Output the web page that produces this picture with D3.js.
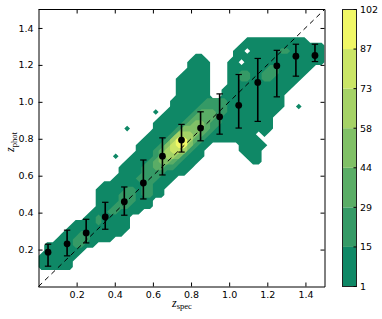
<!DOCTYPE html>
<html>
<head>
<meta charset="utf-8">
<script src="https://cdn.jsdelivr.net/npm/d3@7"></script>
<style>
body { margin: 0; background: #fff; }
text { font-family: "DejaVu Sans", sans-serif; font-size: 9.5px; fill: #000; }
.math { font-family: "Liberation Serif", serif; }
</style>
</head>
<body>
<script>
// plot box (pixels)
var plotLeft = 38.5, plotRight = 324.5, plotTop = 9.5, plotBottom = 286.5;

// contour levels (counts) shown on the colour bar
var levels = [1, 15, 29, 44, 58, 73, 87, 102];
// representative count for a cell of each band (0 = empty)
var bandCount = [0, 8, 22, 36, 51, 65, 80, 95];

// 2d histogram, bin 0.03 in z_spec and z_phot, 50 x 50 bins
// runs: [row (z_phot bin), band, first col, last col]
var binWidth = 0.03, nBins = 50;
var densityRuns = [
  [3,1,0,5],[4,1,0,5],[5,1,0,6],[6,1,1,7],[7,1,1,9],[8,1,3,12],[9,1,4,14],
  [10,1,5,15],[11,1,6,15],[12,1,8,15],[13,1,9,17],[14,1,10,19],[15,1,10,19],
  [16,1,10,21],[17,1,10,21],[18,1,11,22],[19,1,13,23],[20,1,14,25],[21,1,14,26],
  [22,1,15,27],[22,1,37,38],[23,1,16,28],[23,1,36,38],[23,1,13,13],
  [24,1,17,28],[24,1,35,38],[25,1,17,29],[25,1,35,39],[26,1,18,38],[27,1,19,39],
  [28,1,20,40],[28,1,15,15],[29,1,20,40],[30,1,21,40],[31,1,22,41],[31,1,20,20],
  [32,1,23,42],[32,1,45,45],[33,1,23,42],[34,1,24,29],[34,1,32,42],
  [35,1,24,29],[35,1,32,43],[36,1,24,29],[36,1,33,44],[37,1,24,29],[37,1,33,45],
  [38,1,25,29],[38,1,33,46],[39,1,26,29],[39,1,33,47],[40,1,26,29],[40,1,33,49],
  [41,1,27,28],[41,1,34,49],[42,1,34,49],[43,1,35,49],[44,1,36,46],
  // empty bins inside the envelope
  [27,0,38,38],[40,0,35,35],[42,0,36,36],
  // band 2
  [7,2,6,7],[8,2,6,8],[9,2,7,8],[11,2,10,10],[12,2,10,10],[13,2,12,13],
  [14,2,13,15],[15,2,14,16],[16,2,14,16],[16,2,18,19],[17,2,15,16],[17,2,18,19],
  [18,2,18,19],[19,2,17,20],[20,2,18,21],[21,2,18,23],[22,2,19,24],[23,2,20,25],
  [24,2,20,26],[25,2,21,27],[26,2,22,28],[27,2,23,29],[28,2,24,30],[29,2,25,31],
  [30,2,26,31],[31,2,27,32],[32,2,28,32],[33,2,29,32],
  [37,2,35,36],[37,2,39,40],[38,2,35,36],[38,2,39,41],[39,2,40,41],[42,2,42,43],
  // band 3
  [21,3,20,21],[22,3,20,23],[23,3,21,24],[24,3,21,25],[25,3,22,26],[26,3,23,27],
  [27,3,24,28],[28,3,25,29],[29,3,26,29],[30,3,27,30],[31,3,28,30],
  // band 4
  [22,4,21,22],[23,4,21,24],[24,4,22,25],[25,4,22,26],[26,4,23,26],[27,4,24,27],
  [28,4,25,28],[29,4,27,28],
  // band 5
  [23,5,22,23],[24,5,22,25],[25,5,23,25],[26,5,23,26],[27,5,24,26],
  // band 6
  [24,6,23,24],[25,6,23,25],[26,6,24,25],
  // band 7
  [25,7,24,25],[26,7,24,25]
];

// binned medians with error bars
var zspecBins = [0.05, 0.15, 0.25, 0.35, 0.45, 0.55, 0.65, 0.75, 0.85, 0.95, 1.05, 1.15, 1.25, 1.35, 1.45];
var zphotMid  = [0.186, 0.231, 0.290, 0.377, 0.459, 0.561, 0.706, 0.793, 0.858, 0.919, 0.981, 1.105, 1.195, 1.247, 1.251];
var zphotHigh = [0.229, 0.305, 0.364, 0.456, 0.539, 0.685, 0.805, 0.878, 0.946, 1.043, 1.148, 1.235, 1.279, 1.312, 1.312];
var zphotLow  = [0.110, 0.166, 0.236, 0.310, 0.386, 0.474, 0.604, 0.728, 0.789, 0.825, 0.858, 0.894, 1.027, 1.139, 1.218];

var ticks = [0.2, 0.4, 0.6, 0.8, 1.0, 1.2, 1.4];

// summer colormap
function summer(t) { return d3.rgb(255 * t, 128 + 127 * t, 102); }
var bandColors = d3.range(levels.length - 1).map(function(k) {
    return summer(0.06 + 0.88 * k / (levels.length - 2));
});

var x = d3.scaleLinear().domain([0, 1.5]).range([plotLeft, plotRight]);
var y = d3.scaleLinear().domain([0, 1.5]).range([plotBottom, plotTop]);

var svg = d3.select("body").append("svg")
    .attr("width", 382)
    .attr("height", 319);

svg.append("defs").append("clipPath")
    .attr("id", "clip")
    .append("rect")
    .attr("x", plotLeft).attr("y", plotTop)
    .attr("width", plotRight - plotLeft).attr("height", plotBottom - plotTop);

// fill the histogram grid
var grid = new Array(nBins * nBins).fill(0);
densityRuns.forEach(function(r) {
    for (var i = r[2]; i <= r[3]; i++) grid[r[0] * nBins + i] = bandCount[r[1]];
});

var contours = d3.contours()
    .size([nBins, nBins])
    .smooth(false)
    .thresholds(levels.slice(0, -1))(grid);

var proj = d3.geoTransform({
    point: function(u, v) { this.stream.point(x(u * binWidth), y(v * binWidth)); }
});
var path = d3.geoPath(proj);

svg.append("g")
    .attr("clip-path", "url(#clip)")
    .selectAll("path")
    .data(contours)
    .enter().append("path")
    .attr("d", path)
    .attr("fill", function(d, i) { return bandColors[i]; })
    .attr("stroke", "none");

// one-to-one line
svg.append("line")
    .attr("x1", x(0)).attr("y1", y(0))
    .attr("x2", x(1.5)).attr("y2", y(1.5))
    .attr("stroke", "#000")
    .attr("stroke-width", 1)
    .attr("stroke-dasharray", "5,4");

// error bars
var eb = svg.append("g");
zspecBins.forEach(function(zs, k) {
    var cx = x(zs);
    eb.append("line")
        .attr("x1", cx).attr("x2", cx)
        .attr("y1", y(zphotLow[k])).attr("y2", y(zphotHigh[k]))
        .attr("stroke", "#000").attr("stroke-width", 1.6);
    [zphotLow[k], zphotHigh[k]].forEach(function(v) {
        eb.append("line")
            .attr("x1", cx - 3.2).attr("x2", cx + 3.2)
            .attr("y1", y(v)).attr("y2", y(v))
            .attr("stroke", "#000").attr("stroke-width", 1.2);
    });
    eb.append("circle")
        .attr("cx", cx).attr("cy", y(zphotMid[k]))
        .attr("r", 3.4)
        .attr("fill", "#000");
});

// axes, ticks pointing inward
function styleAxis(g) {
    g.select(".domain").remove();
    g.selectAll(".tick line").attr("stroke", "#000");
}
svg.append("g")
    .attr("transform", "translate(0," + plotBottom + ")")
    .call(d3.axisBottom(x).tickValues(ticks).tickSize(-4).tickPadding(4.3).tickFormat(d3.format(".1f")))
    .call(styleAxis);
svg.append("g")
    .attr("transform", "translate(0," + plotTop + ")")
    .call(d3.axisTop(x).tickValues(ticks).tickSize(-4).tickFormat(""))
    .call(styleAxis);
svg.append("g")
    .attr("transform", "translate(" + plotLeft + ",0)")
    .call(d3.axisLeft(y).tickValues(ticks).tickSize(-4).tickPadding(5).tickFormat(d3.format(".1f")))
    .call(styleAxis);
svg.append("g")
    .attr("transform", "translate(" + plotRight + ",0)")
    .call(d3.axisRight(y).tickValues(ticks).tickSize(-4).tickFormat(""))
    .call(styleAxis);
svg.selectAll(".tick text").style("font-family", "DejaVu Sans").style("font-size", "9.5px");

// frame: top is pixel aligned, the other spines straddle two pixels
var frame = svg.append("g").attr("stroke", "#000").attr("stroke-width", 1);
frame.append("line").attr("x1", plotLeft).attr("x2", plotRight + 0.5).attr("y1", plotTop).attr("y2", plotTop);
frame.append("line").attr("x1", plotLeft + 0.5).attr("x2", plotLeft + 0.5).attr("y1", plotTop).attr("y2", plotBottom + 0.5);
frame.append("line").attr("x1", plotRight + 0.5).attr("x2", plotRight + 0.5).attr("y1", plotTop).attr("y2", plotBottom + 0.5);
frame.append("line").attr("x1", plotLeft).attr("x2", plotRight + 0.5).attr("y1", plotBottom + 0.5).attr("y2", plotBottom + 0.5);

// axis labels
var xl = svg.append("text").attr("class", "math")
    .attr("x", 182).attr("y", 306.5).attr("text-anchor", "middle");
xl.append("tspan").style("font-size", "12px").style("font-style", "italic").text("z");
xl.append("tspan").attr("dy", 2.5).style("font-size", "8.5px").text("spec");

var yl = svg.append("text").attr("class", "math")
    .attr("transform", "translate(14,142) rotate(-90)")
    .attr("text-anchor", "middle");
yl.append("tspan").style("font-size", "12px").style("font-style", "italic").text("z");
yl.append("tspan").attr("dy", 2.5).style("font-size", "8.5px").text("phot");

// colour bar
var cbLeft = 342.5, cbWidth = 14;
var cy = d3.scaleLinear().domain([0, levels.length - 1]).range([plotBottom, plotTop]);
var cb = svg.append("g");
bandColors.forEach(function(c, k) {
    cb.append("rect")
        .attr("x", cbLeft).attr("y", cy(k + 1))
        .attr("width", cbWidth).attr("height", cy(k) - cy(k + 1))
        .attr("fill", c);
});
cb.append("rect")
    .attr("x", cbLeft).attr("y", plotTop)
    .attr("width", cbWidth).attr("height", plotBottom - plotTop)
    .attr("fill", "none").attr("stroke", "#222").attr("stroke-width", 1);
levels.forEach(function(l, k) {
    cb.append("line")
        .attr("x1", cbLeft + cbWidth - 3).attr("x2", cbLeft + cbWidth)
        .attr("y1", cy(k)).attr("y2", cy(k))
        .attr("stroke", "#000");
    cb.append("text")
        .attr("x", cbLeft + cbWidth + 3.5)
        .attr("y", cy(k))
        .attr("dy", "0.35em")
        .text(l);
});
</script>
</body>
</html>
